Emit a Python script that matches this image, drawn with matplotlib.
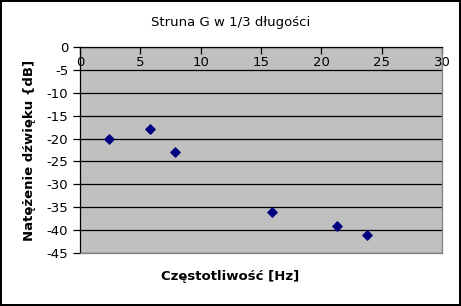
import numpy as np
from matplotlib import pyplot as plt

# measured points
freq = [2.4, 5.8, 7.9, 15.9, 21.3, 23.8]
level = [-20, -18, -23, -36, -39, -41]

x_ticks = [0, 5, 10, 15, 20, 25, 30]
y_ticks = [0, -5, -10, -15, -20, -25, -30, -35, -40, -45]

fig = plt.figure(figsize=(4.61, 3.06), dpi=100)
fig.patch.set_edgecolor('black')
fig.patch.set_linewidth(1.5)

ax = fig.add_axes([0.1735, 0.1732, 0.7853, 0.6732])
ax.set_facecolor('#c0c0c0')

ax.scatter(freq, level, marker='D', s=22, color='#000080', zorder=3)

ax.set_xlim(0, 30)
ax.set_ylim(-45, 0)
ax.set_xticks(x_ticks)
ax.set_yticks(y_ticks)
ax.set_yticklabels([str(v) for v in y_ticks])

ax.yaxis.grid(True, color='black', linewidth=0.9)
ax.set_axisbelow(True)

ax.tick_params(axis='x', top=True, bottom=False, labeltop=True, labelbottom=False,
               direction='in', length=5, pad=-16, labelsize=9.5, width=0.9)
ax.tick_params(axis='y', direction='out', length=5, labelsize=9.5, width=0.9)

for side in ['top', 'left']:
    ax.spines[side].set_color('black')
    ax.spines[side].set_linewidth(0.9)
for side in ['right', 'bottom']:
    ax.spines[side].set_color('#808080')
    ax.spines[side].set_linewidth(0.9)

fig.text(0.5, 0.928, 'Struna G w 1/3 długości', ha='center', va='center', fontsize=9.5)
fig.text(0.5, 0.095, 'Częstotliwość [Hz]', ha='center', va='center', fontsize=9.5,
         fontweight='bold')
fig.text(0.065, 0.51, 'Natężenie dźwięku {dB]', ha='center', va='center', fontsize=9.5,
         fontweight='bold', rotation=90)

fig.savefig('out.png', dpi=100, edgecolor=fig.get_edgecolor())
